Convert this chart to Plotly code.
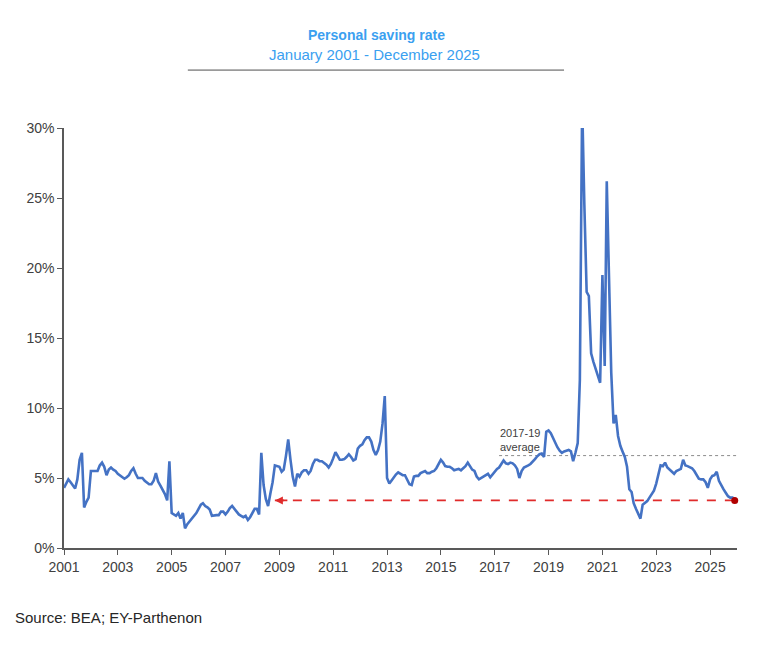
import pandas as pd
import plotly.graph_objects as go

# monthly personal saving rate (%), Jan..Dec of each year
y2001 = [4.3, 4.65, 4.9, 4.7, 4.45, 4.25, 4.9, 6.3, 6.8, 2.9, 3.3, 3.6]
y2002 = [5.5, 5.5, 5.45, 5.5, 5.9, 6.1, 5.8, 5.2, 5.6, 5.75, 5.6, 5.5]
y2003 = [5.3, 5.2, 5.05, 4.95, 5.05, 5.2, 5.5, 5.7, 5.3, 5.0, 5.0, 5.0]
y2004 = [4.8, 4.65, 4.55, 4.55, 4.8, 5.35, 4.75, 4.45, 4.15, 3.85, 3.4, 6.2]
y2005 = [2.5, 2.4, 2.3, 2.5, 2.1, 2.5, 1.4, 1.7, 1.9, 2.05, 2.3, 2.5]
y2006 = [2.8, 3.1, 3.2, 3.0, 2.9, 2.75, 2.3, 2.35, 2.35, 2.35, 2.6, 2.6]
y2007 = [2.4, 2.6, 2.85, 3.0, 2.8, 2.55, 2.4, 2.3, 2.2, 2.3, 2.0, 2.2]
y2008 = [2.5, 2.8, 2.8, 2.4, 6.8, 4.5, 3.5, 3.0, 3.9, 4.7, 5.9, 5.85]
y2009 = [5.8, 5.45, 5.6, 6.6, 7.75, 6.3, 5.1, 4.4, 5.3, 5.1, 5.4, 5.55]
y2010 = [5.55, 5.3, 5.5, 6.0, 6.3, 6.3, 6.2, 6.2, 6.1, 5.95, 5.75, 6.0]
y2011 = [6.4, 6.85, 6.6, 6.3, 6.3, 6.35, 6.5, 6.7, 6.5, 6.25, 6.35, 7.1]
y2012 = [7.3, 7.4, 7.7, 7.9, 7.9, 7.6, 7.0, 6.65, 7.0, 7.6, 8.9, 10.85]
y2013 = [5.0, 4.6, 4.8, 5.05, 5.25, 5.4, 5.3, 5.2, 5.2, 4.85, 4.55, 4.5]
y2014 = [5.1, 5.15, 5.15, 5.35, 5.45, 5.5, 5.35, 5.35, 5.45, 5.5, 5.7, 6.05]
y2015 = [6.3, 6.1, 5.85, 5.8, 5.8, 5.7, 5.55, 5.6, 5.65, 5.55, 5.7, 5.85]
y2016 = [6.1, 5.8, 5.6, 5.5, 5.1, 4.9, 5.0, 5.1, 5.15, 5.3, 5.05, 5.25]
y2017 = [5.45, 5.65, 5.75, 6.0, 6.25, 6.05, 6.0, 6.1, 6.05, 5.9, 5.65, 5.0]
y2018 = [5.5, 5.75, 5.8, 5.9, 6.0, 6.15, 6.35, 6.55, 6.7, 6.75, 6.5, 8.3]
y2019 = [8.4, 8.2, 7.9, 7.45, 7.2, 6.95, 6.8, 6.9, 6.95, 7.0, 6.9, 6.2]
y2020 = [6.8, 7.5, 12.0, 31.8, 24.5, 18.3, 18.0, 13.9, 13.3, 12.8, 12.2, 11.8]
y2021 = [19.5, 13.0, 26.2, 18.0, 12.5, 8.9, 9.5, 8.0, 7.3, 6.9, 6.5, 5.8]
y2022 = [4.2, 4.0, 3.2, 2.8, 2.5, 2.1, 3.1, 3.25, 3.35, 3.6, 3.9, 4.1]
y2023 = [4.6, 5.3, 5.9, 5.85, 6.1, 5.75, 5.6, 5.45, 5.3, 5.5, 5.55, 5.65]
y2024 = [6.3, 5.9, 5.85, 5.75, 5.7, 5.5, 5.2, 4.95, 4.9, 4.9, 4.7, 4.3]
y2025 = [4.9, 5.15, 5.2, 5.45, 4.8, 4.45, 4.2, 3.95, 3.7, 3.6, 3.6, 3.4]

saving_rate = (y2001 + y2002 + y2003 + y2004 + y2005 + y2006 + y2007 + y2008
               + y2009 + y2010 + y2011 + y2012 + y2013 + y2014 + y2015 + y2016
               + y2017 + y2018 + y2019 + y2020 + y2021 + y2022 + y2023 + y2024
               + y2025)
dates = pd.date_range("2001-01-01", periods=len(saving_rate), freq="MS")

avg_2017_19 = 6.6
avg_span = ["2017-03-01", "2026-01-01"]
arrow_tip = "2008-11-01"

font = "Arial, Liberation Sans, sans-serif"
blue_title = "#3aa0f0"

fig = go.Figure()

# 2017-19 average reference
fig.add_trace(go.Scatter(
    x=avg_span, y=[avg_2017_19, avg_2017_19], mode="lines",
    line=dict(color="#8c8c8c", width=1, dash="dot"), hoverinfo="skip",
))

# current level carried back to the last time it was this low
fig.add_trace(go.Scatter(
    x=[arrow_tip, dates[-1]], y=[saving_rate[-1], saving_rate[-1]], mode="lines",
    line=dict(color="#e02b2b", width=1.6, dash="dash"), hoverinfo="skip",
))

fig.add_trace(go.Scatter(
    x=dates, y=saving_rate, mode="lines",
    line=dict(color="#4472C4", width=2.6),
    name="Personal saving rate",
))

fig.add_trace(go.Scatter(
    x=[dates[-1]], y=[saving_rate[-1]], mode="markers",
    marker=dict(color="#b00000", size=7), cliponaxis=False, hoverinfo="skip",
))

# arrow head at the left end of the dashed line
fig.add_annotation(
    x=arrow_tip, y=saving_rate[-1], ax=14, ay=0, text="",
    showarrow=True, arrowhead=2, arrowsize=1, arrowwidth=1.6, arrowcolor="#e02b2b",
)

fig.add_annotation(
    x="2017-02-15", y=7.68, text="2017-19<br>average", showarrow=False,
    xanchor="left", yanchor="middle", align="left",
    font=dict(family=font, size=11, color="#404040"),
)

# titles (page body keeps the browser's 8px margin, so sizes are offset by it)
fig.add_annotation(
    x=0.465, y=1.221, xref="paper", yref="paper", showarrow=False,
    xanchor="center", yanchor="middle",
    text="<b>Personal saving rate</b>",
    font=dict(family=font, size=14, color=blue_title),
)
fig.add_annotation(
    x=0.462, y=1.174, xref="paper", yref="paper", showarrow=False,
    xanchor="center", yanchor="middle",
    text="January 2001 - December 2025",
    font=dict(family=font, size=15, color=blue_title),
)
fig.add_shape(
    type="line", xref="paper", yref="paper", x0=0.184, x1=0.743, y0=1.138, y1=1.138,
    line=dict(color="#9a9a9a", width=1.8),
)

fig.add_annotation(
    x=-0.076, y=-0.165, xref="paper", yref="paper", showarrow=False,
    xanchor="left", yanchor="middle", text="Source: BEA; EY-Parthenon",
    font=dict(family=font, size=15, color="#262626"),
)

axis_style = dict(
    showline=True, linecolor="#595959", linewidth=1.5,
    ticks="outside", ticklen=5, tickcolor="#595959", tickwidth=1.2,
    showgrid=False, zeroline=False,
    tickfont=dict(family=font, size=14, color="#404040"),
)

fig.update_xaxes(
    type="date", range=["2001-01-01", "2026-01-01"],
    tick0="2001-01-01", dtick="M24", tickformat="%Y", **axis_style,
)
fig.update_yaxes(range=[0, 30], dtick=5, ticksuffix="%", **axis_style)

fig.update_layout(
    width=741, height=629,
    margin=dict(l=56, r=12, t=120, b=89),
    plot_bgcolor="white", paper_bgcolor="white",
    showlegend=False,
    font=dict(family=font),
)

fig.write_html("out.html")
